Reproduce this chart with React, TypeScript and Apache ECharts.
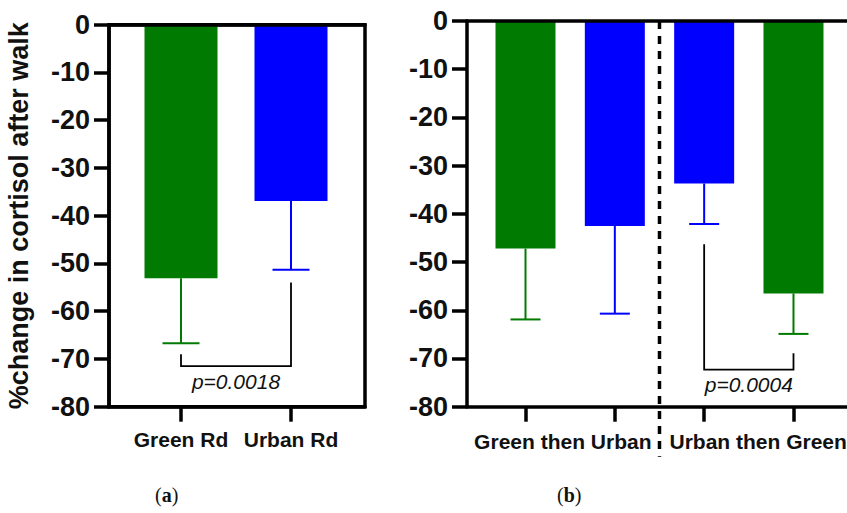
import React, { useEffect, useRef } from "react";
import * as echarts from "echarts";

// ---- data ----
const groupsA = ["Green Rd", "Urban Rd"];
const meansA = [-53.1, -36.9];
const lowerA = [-66.7, -51.3];
const colorsA = ["#007a00", "#0000ff"];

const meansB = [-47.2, -42.5, -33.7, -56.5];
const lowerB = [-61.9, -60.7, -42.1, -64.9];
const colorsB = ["#007a00", "#0000ff", "#0000ff", "#007a00"];
const groupsB = ["Green then Urban", "Urban then Green"];
const dividerB = [2.5];

// bracket: [fromX, toX, leftTop, rightTop, bottom]
const bracketA = [1, 2, -69.0, -54.0, -71.5];
const bracketB = [3, 4, -46.3, -68.9, -72.3];
const pLabelA = "p=0.0018";
const pLabelB = "p=0.0004";

const yTitle = "%change in cortisol after walk";

const FONT = "Liberation Sans";
const AXW = 3.5;

function errRender(capHalf: number) {
  return (params: any, api: any) => {
    const x = api.value(0);
    const p0 = api.coord([x, api.value(1)]);
    const p1 = api.coord([x, api.value(2)]);
    const color = api.visual("color");
    return {
      type: "group",
      children: [
        { type: "line", shape: { x1: p0[0], y1: p0[1], x2: p1[0], y2: p1[1] }, style: { stroke: color, lineWidth: 2 } },
        { type: "line", shape: { x1: p1[0] - capHalf, y1: p1[1], x2: p1[0] + capHalf, y2: p1[1] }, style: { stroke: color, lineWidth: 2 } },
      ],
    };
  };
}

function bracketRender(label: string) {
  return (params: any, api: any) => {
    const x1 = api.value(0), x2 = api.value(1);
    const lt = api.coord([x1, api.value(2)]);
    const rt = api.coord([x2, api.value(3)]);
    const lb = api.coord([x1, api.value(4)]);
    const rb = api.coord([x2, api.value(4)]);
    return {
      type: "group",
      children: [
        { type: "polyline", shape: { points: [lt, lb, rb, rt] }, style: { stroke: "#000", lineWidth: 1.8, fill: "none" } },
        {
          type: "text",
          x: (lb[0] + rb[0]) / 2,
          y: lb[1] + 15,
          style: { text: label, fontSize: 21, fontStyle: "italic", fontFamily: FONT, fill: "#111", align: "center", verticalAlign: "middle" },
        },
      ],
    };
  };
}

function xAxes(grid: number, min: number, max: number, ticks: number[], labels: string[] | null) {
  return [
    {
      type: "value",
      gridIndex: grid,
      position: "bottom",
      min,
      max,
      axisLine: { show: true, onZero: false, lineStyle: { color: "#000", width: AXW } },
      axisTick: { show: true, customValues: ticks, length: 15, lineStyle: { color: "#000", width: AXW } },
      axisLabel: labels
        ? {
            show: true,
            customValues: ticks,
            formatter: (v: number) => labels[Math.round(v) - 1] || "",
            margin: 22,
            fontFamily: FONT,
            fontWeight: "bold",
            fontSize: 21,
            color: "#111",
          }
        : { show: false },
      splitLine: { show: false },
    },
    {
      type: "value",
      gridIndex: grid,
      position: "top",
      min,
      max,
      z: 10,
      axisLine: { show: true, onZero: false, lineStyle: { color: "#000", width: AXW } },
      axisTick: { show: false },
      axisLabel: { show: false },
      splitLine: { show: false },
    },
  ];
}

function yAxis(grid: number, withName: boolean) {
  return {
    type: "value",
    gridIndex: grid,
    min: -80,
    max: 0,
    interval: 10,
    name: withName ? yTitle : "",
    nameLocation: "middle",
    nameGap: 77,
    nameTextStyle: { fontFamily: FONT, fontWeight: "bold", fontSize: 27, color: "#111" },
    axisLine: { show: true, lineStyle: { color: "#000", width: AXW } },
    axisTick: { show: true, length: 15, lineStyle: { color: "#000", width: AXW } },
    axisLabel: { margin: 19, fontFamily: FONT, fontWeight: "bold", fontSize: 27, color: "#111" },
    splitLine: { show: false },
    z: 10,
  };
}

export default function App() {
  const ref = useRef<HTMLDivElement>(null);
  useEffect(() => {
    if (!ref.current) return;
    const chart = echarts.init(ref.current, undefined, { renderer: "svg" });
    const spA = 110;
    const minA = 1 - 72 / spA;
    const maxA = minA + 256 / spA;
    const spB = 89.33;
    const minB = 1 - 58.5 / spB;
    const maxB = minB + 400 / spB;

    const option: any = {
      animation: false,
      backgroundColor: "#fff",
      grid: [
        { left: 109, top: 24.7, width: 256, height: 382, outerBoundsMode: "none", containLabel: false, show: true, borderColor: "#000", borderWidth: AXW, backgroundColor: "transparent" },
        { left: 467, top: 21, width: 400, height: 385.7, outerBoundsMode: "none", containLabel: false, show: false },
      ],
      xAxis: [
        ...xAxes(0, minA, maxA, [1, 2], groupsA),
        ...xAxes(1, minB, maxB, [1, 2, 3, 4], null),
      ],
      yAxis: [yAxis(0, true), yAxis(1, false)],
      series: [
        {
          type: "bar",
          xAxisIndex: 0,
          yAxisIndex: 0,
          barWidth: 73,
          data: meansA.map((v, i) => ({ value: [i + 1, v], itemStyle: { color: colorsA[i] } })),
        },
        {
          type: "custom",
          xAxisIndex: 0,
          yAxisIndex: 0,
          clip: false,
          renderItem: errRender(18.5),
          data: meansA.map((v, i) => ({ value: [i + 1, v, lowerA[i]], itemStyle: { color: colorsA[i] } })),
        },
        {
          type: "custom",
          xAxisIndex: 0,
          yAxisIndex: 0,
          clip: false,
          renderItem: bracketRender(pLabelA),
          data: [bracketA],
        },
        {
          type: "bar",
          xAxisIndex: 2,
          yAxisIndex: 1,
          barWidth: 60,
          data: meansB.map((v, i) => ({ value: [i + 1, v], itemStyle: { color: colorsB[i] } })),
        },
        {
          type: "custom",
          xAxisIndex: 2,
          yAxisIndex: 1,
          clip: false,
          renderItem: errRender(15),
          data: meansB.map((v, i) => ({ value: [i + 1, v, lowerB[i]], itemStyle: { color: colorsB[i] } })),
        },
        {
          type: "custom",
          xAxisIndex: 2,
          yAxisIndex: 1,
          clip: false,
          renderItem: bracketRender(pLabelB),
          data: [bracketB],
        },
        {
          type: "custom",
          xAxisIndex: 2,
          yAxisIndex: 1,
          clip: false,
          z: 5,
          renderItem: (params: any, api: any) => {
            const x = api.value(0);
            const top = api.coord([x, 0]);
            const bot = api.coord([x, -80]);
            return {
              type: "group",
              children: [
                {
                  type: "line",
                  shape: { x1: top[0], y1: top[1], x2: bot[0], y2: bot[1] + 50 },
                  style: { stroke: "#000", lineWidth: 3.5, lineDash: [8, 7] },
                },
                {
                  type: "text",
                  x: bot[0] - 8,
                  y: bot[1] + 35,
                  style: { text: groupsB[0], fontFamily: FONT, fontWeight: "bold", fontSize: 21, fill: "#111", align: "right", verticalAlign: "middle" },
                },
                {
                  type: "text",
                  x: bot[0] + 10,
                  y: bot[1] + 35,
                  style: { text: groupsB[1], fontFamily: FONT, fontWeight: "bold", fontSize: 21, fill: "#111", align: "left", verticalAlign: "middle" },
                },
              ],
            };
          },
          data: dividerB.map((d) => [d, 0]),
        },
      ],
      graphic: [
        {
          type: "text",
          left: 155,
          top: 485,
          style: {
            text: "({b|a})",
            font: "20px 'Liberation Serif'",
            fill: "#111",
            rich: { b: { fontWeight: "bold", fontSize: 20, fontFamily: "Liberation Serif", fill: "#111" } },
          },
        },
        {
          type: "text",
          left: 557,
          top: 485,
          style: {
            text: "({b|b})",
            font: "20px 'Liberation Serif'",
            fill: "#111",
            rich: { b: { fontWeight: "bold", fontSize: 20, fontFamily: "Liberation Serif", fill: "#111" } },
          },
        },
      ],
    };
    chart.setOption(option);
    return () => chart.dispose();
  }, []);
  return <div ref={ref} style={{ position: "fixed", left: 0, top: 0, width: 847, height: 513 }} />;
}
